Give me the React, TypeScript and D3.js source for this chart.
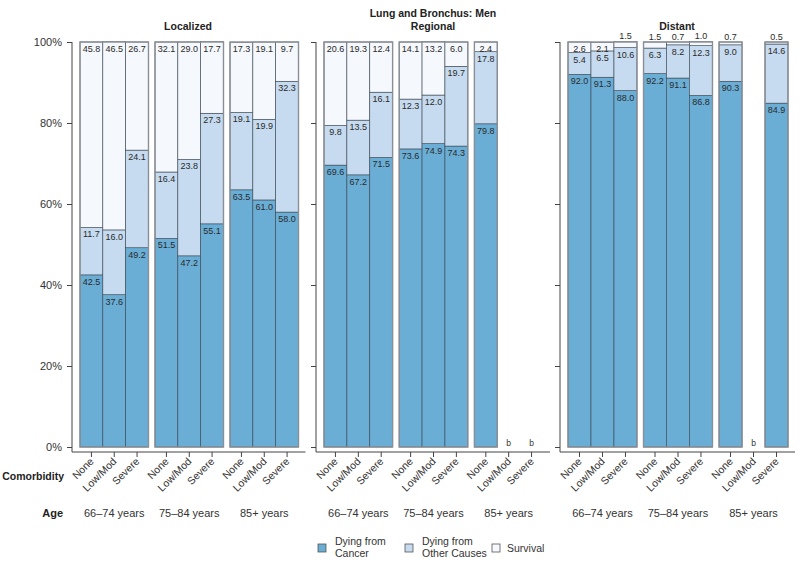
import React, { useEffect, useRef } from 'react';
import * as d3 from 'd3';

// stages (panels), age groups, comorbidity levels
const stages = ['Localized', 'Regional', 'Distant'];
const ages = ['66–74 years', '75–84 years', '85+ years'];
const comorbidities = ['None', 'Low/Mod', 'Severe'];
const yTicks = [0, 20, 40, 60, 80, 100];

// values per stage, age group x comorbidity (null = suppressed, shown as "b")
const cancer: (number | null)[][][] = [
  [[42.5, 37.6, 49.2], [51.5, 47.2, 55.1], [63.5, 61.0, 58.0]],
  [[69.6, 67.2, 71.5], [73.6, 74.9, 74.3], [79.8, null, null]],
  [[92.0, 91.3, 88.0], [92.2, 91.1, 86.8], [90.3, null, 84.9]],
];
const otherCauses: (number | null)[][][] = [
  [[11.7, 16.0, 24.1], [16.4, 23.8, 27.3], [19.1, 19.9, 32.3]],
  [[9.8, 13.5, 16.1], [12.3, 12.0, 19.7], [17.8, null, null]],
  [[5.4, 6.5, 10.6], [6.3, 8.2, 12.3], [9.0, null, 14.6]],
];
const survival: (number | null)[][][] = [
  [[45.8, 46.5, 26.7], [32.1, 29.0, 17.7], [17.3, 19.1, 9.7]],
  [[20.6, 19.3, 12.4], [14.1, 13.2, 6.0], [2.4, null, null]],
  [[2.6, 2.1, 1.5], [1.5, 0.7, 1.0], [0.7, null, 0.5]],
];

const seriesNames = ['Dying from\nCancer', 'Dying from\nOther Causes', 'Survival'];
const colors = ['#6aaed6', '#c6dbef', '#f5f8fc'];

const FONT = '"Liberation Sans", Arial, Helvetica, sans-serif';

const App: React.FC = () => {
  const svgRef = useRef<SVGSVGElement | null>(null);

  useEffect(() => {
    const svg = d3.select(svgRef.current);
    svg.selectAll('*').remove();

    const y = d3.scaleLinear().domain([0, 100]).range([447, 42]);
    const axisBottomY = 452;
    const panelRanges: [number, number][] = [[72, 305.5], [316, 550], [560, 795]];

    const g = svg.append('g').attr('font-family', FONT);

    // titles
    g.append('text').attr('x', 188).attr('y', 30).attr('text-anchor', 'middle')
      .attr('font-size', 10.5).attr('font-weight', 'bold').attr('fill', '#222').text('Localized');
    g.append('text').attr('x', 433).attr('y', 17).attr('text-anchor', 'middle')
      .attr('font-size', 10.5).attr('font-weight', 'bold').attr('fill', '#222').text('Lung and Bronchus: Men');
    g.append('text').attr('x', 433).attr('y', 30).attr('text-anchor', 'middle')
      .attr('font-size', 10.5).attr('font-weight', 'bold').attr('fill', '#222').text('Regional');
    g.append('text').attr('x', 677).attr('y', 30).attr('text-anchor', 'middle')
      .attr('font-size', 10.5).attr('font-weight', 'bold').attr('fill', '#222').text('Distant');

    stages.forEach((stage, si) => {
      const [x0, x1] = panelRanges[si];
      const xGroup = d3.scaleBand<string>().domain(ages).range([x0 + 8, x1 - 7]).paddingInner(0.087).paddingOuter(0);
      const xBar = d3.scaleBand<string>().domain(comorbidities).range([0, xGroup.bandwidth()]).padding(0);

      const panel = g.append('g').attr('class', `panel-${stage}`);

      // y axis
      const yAxis = d3.axisLeft(y).tickValues(yTicks).tickSize(5).tickSizeOuter(0)
        .tickFormat((d) => (si === 0 ? `${d}%` : ''));
      const ya = panel.append('g').attr('transform', `translate(${x0},0)`).call(yAxis);
      ya.select('.domain').remove();
      ya.selectAll('line').style('stroke', '#444');
      ya.selectAll('text').style('fill', '#333').style('font-size', '11px')
        .style('font-family', FONT).attr('dx', -2);
      panel.append('line').attr('x1', x0).attr('x2', x0).attr('y1', y(100)).attr('y2', axisBottomY)
        .attr('stroke', '#444').attr('stroke-width', 1);
      panel.append('line').attr('x1', x0).attr('x2', x1).attr('y1', axisBottomY).attr('y2', axisBottomY)
        .attr('stroke', '#444').attr('stroke-width', 1);

      ages.forEach((age, ai) => {
        const gx = xGroup(age)!;
        const bw = xBar.bandwidth();

        comorbidities.forEach((com, ci) => {
          const bx = gx + xBar(com)!;
          const cx = bx + bw / 2;
          const vals = [cancer[si][ai][ci], otherCauses[si][ai][ci], survival[si][ai][ci]];

          // tick + rotated label
          panel.append('line').attr('x1', cx).attr('x2', cx).attr('y1', axisBottomY).attr('y2', axisBottomY + 5)
            .attr('stroke', '#444');
          panel.append('text').attr('transform', `translate(${cx + 3},${axisBottomY + 10}) rotate(-45)`)
            .attr('text-anchor', 'end').attr('font-size', 10.5).attr('fill', '#333').text(com);

          if (vals[0] === null) {
            panel.append('text').attr('x', cx).attr('y', 446).attr('text-anchor', 'middle')
              .attr('font-size', 8.5).attr('fill', '#333').text('b');
            return;
          }

          let base = 0;
          vals.forEach((v, k) => {
            const val = v as number;
            const top = base + val;
            panel.append('rect').attr('x', bx).attr('width', bw)
              .attr('y', y(top)).attr('height', y(base) - y(top))
              .attr('fill', colors[k]).attr('stroke', '#3b4652').attr('stroke-width', 0.6);
            const small = val < 2;
            panel.append('text').attr('x', cx)
              .attr('y', small ? y(top) - 2.5 : y(top) + 10)
              .attr('text-anchor', 'middle').attr('font-size', 9).attr('fill', '#2a2a2a')
              .text(val.toFixed(1));
            base = top;
          });
        });

        // grey outline around contiguous present bars
        let run: number[] = [];
        const flush = () => {
          if (run.length) {
            const rx = gx + xBar(comorbidities[run[0]])!;
            panel.append('rect').attr('x', rx).attr('y', y(100))
              .attr('width', bw * run.length).attr('height', y(0) - y(100))
              .attr('fill', 'none').attr('stroke', '#8a8f96').attr('stroke-width', 1.4);
          }
          run = [];
        };
        comorbidities.forEach((_, ci) => {
          if (cancer[si][ai][ci] !== null) run.push(ci);
          else flush();
        });
        flush();

        // age label
        panel.append('text').attr('x', gx + xGroup.bandwidth() / 2).attr('y', 517)
          .attr('text-anchor', 'middle').attr('font-size', 11).attr('fill', '#333').text(age);
      });
    });

    g.append('text').attr('x', 64).attr('y', 480).attr('text-anchor', 'end')
      .attr('font-size', 10.5).attr('font-weight', 'bold').attr('fill', '#222').text('Comorbidity');
    g.append('text').attr('x', 63).attr('y', 517).attr('text-anchor', 'end')
      .attr('font-size', 11).attr('font-weight', 'bold').attr('fill', '#222').text('Age');

    // legend
    const legendX = [318, 405, 492];
    seriesNames.forEach((name, i) => {
      const lines = name.split('\n');
      const lx = legendX[i];
      g.append('rect').attr('x', lx).attr('y', 544).attr('width', 8).attr('height', 8)
        .attr('fill', colors[i]).attr('stroke', '#555').attr('stroke-width', 0.8);
      const t = g.append('text').attr('x', lx + (i === 2 ? 15 : 17)).attr('font-size', 10.5).attr('fill', '#333');
      if (lines.length === 1) {
        t.attr('y', 552).text(lines[0]);
      } else {
        lines.forEach((l, li) => {
          t.append('tspan').attr('x', lx + 17).attr('y', 545 + li * 12).text(l);
        });
      }
    });
  }, []);

  return (
    <svg
      ref={svgRef}
      width={800}
      height={569}
      style={{ position: 'absolute', left: 0, top: 0, background: '#fff' }}
    ></svg>
  );
};

export default App;
